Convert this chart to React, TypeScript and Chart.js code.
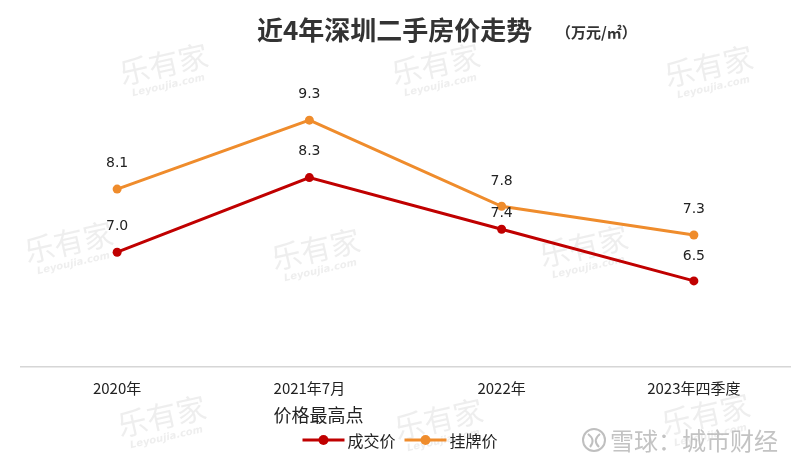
import React, { useEffect, useRef } from "react";
import { Chart, registerables } from "chart.js";

Chart.register(...registerables);

const categories = ["2020年", "2021年7月", "2022年", "2023年四季度"];
const dealPrice = [7.0, 8.3, 7.4, 6.5];
const listPrice = [8.1, 9.3, 7.8, 7.3];
const seriesNames = ["成交价", "挂牌价"];
const titleText = "近4年深圳二手房价走势";
const unitText = "（万元/㎡）";
const peakNote = "价格最高点";
const peakIndex = 1;
const yMin = 5;
const yMax = 10;
const watermarkText = "乐有家";
const watermarkSub = "Leyoujia.com";
const sourceText = "雪球：城市财经";

const RED = "#C00000";
const ORANGE = "#EF8C2C";
const CJK = "'Noto Sans CJK SC', 'Noto Sans', sans-serif";
const NUM = "'DejaVu Sans', sans-serif";

const watermarkSpots = [
  [165, 70], [437, 70], [710, 72],
  [70, 248], [317, 255], [585, 252],
  [163, 422], [440, 425], [707, 420],
];

const overlayPlugin = {
  id: "overlay",
  beforeDraw(chart: any) {
    const ctx = chart.ctx;
    ctx.save();
    ctx.fillStyle = "#ffffff";
    ctx.fillRect(0, 0, chart.width, chart.height);
    // faint watermarks
    watermarkSpots.forEach(([x, y]) => {
      ctx.save();
      ctx.translate(x, y);
      ctx.rotate(-0.22);
      ctx.fillStyle = "rgba(150,150,150,0.16)";
      ctx.textAlign = "center";
      ctx.textBaseline = "middle";
      ctx.font = `30px ${CJK}`;
      ctx.fillText(watermarkText, 0, -6);
      ctx.font = `italic bold 10px ${NUM}`;
      ctx.fillText(watermarkSub, 0, 16);
      ctx.restore();
    });
    // source watermark
    ctx.strokeStyle = "rgba(170,170,170,0.75)";
    ctx.lineWidth = 2;
    ctx.beginPath();
    ctx.arc(594, 440, 11, 0, Math.PI * 2);
    ctx.stroke();
    ctx.beginPath();
    ctx.moveTo(588, 434);
    ctx.quadraticCurveTo(596, 440, 590, 447);
    ctx.moveTo(600, 434);
    ctx.quadraticCurveTo(592, 440, 599, 447);
    ctx.stroke();
    ctx.fillStyle = "rgba(175,175,175,0.75)";
    ctx.font = `24px ${CJK}`;
    ctx.textAlign = "left";
    ctx.textBaseline = "middle";
    ctx.fillText(sourceText, 610, 441);
    ctx.restore();
  },
  afterDatasetsDraw(chart: any) {
    const ctx = chart.ctx;
    ctx.save();
    ctx.font = `14px ${NUM}`;
    ctx.fillStyle = "#222222";
    ctx.textAlign = "center";
    ctx.textBaseline = "middle";
    chart.data.datasets.forEach((ds: any, i: number) => {
      const meta = chart.getDatasetMeta(i);
      meta.data.forEach((pt: any, j: number) => {
        const off = ds.labelOffsets ? ds.labelOffsets[j] : 26;
        ctx.fillText(Number(ds.data[j]).toFixed(1), pt.x, pt.y - off);
      });
    });
    ctx.restore();
  },
  afterDraw(chart: any) {
    const ctx = chart.ctx;
    ctx.save();
    // title
    ctx.fillStyle = "#333333";
    ctx.textBaseline = "middle";
    ctx.textAlign = "left";
    ctx.font = `bold 26px ${CJK}`;
    ctx.fillText(titleText, 257, 30);
    ctx.font = `bold 15px ${CJK}`;
    ctx.fillText(unitText, 556, 32);

    // peak note, left-aligned with its category label
    const xs = chart.scales.x;
    ctx.font = `15px ${CJK}`;
    const lw = ctx.measureText(categories[peakIndex]).width;
    const px = xs.getPixelForValue(peakIndex) - lw / 2;
    ctx.font = `18px ${CJK}`;
    ctx.fillStyle = "#222222";
    ctx.fillText(peakNote, px, 415);

    // legend
    const ly = 440;
    const seg = 42;
    ctx.font = `16px ${CJK}`;
    const colors = [RED, ORANGE];
    const widths = seriesNames.map((n) => ctx.measureText(n).width);
    const total = seg * 2 + 3 * 2 + widths[0] + widths[1] + 9;
    let x = 400 - total / 2;
    seriesNames.forEach((name, i) => {
      ctx.strokeStyle = colors[i];
      ctx.lineWidth = 3;
      ctx.beginPath();
      ctx.moveTo(x, ly);
      ctx.lineTo(x + seg, ly);
      ctx.stroke();
      ctx.fillStyle = colors[i];
      ctx.beginPath();
      ctx.arc(x + seg / 2, ly, 5, 0, Math.PI * 2);
      ctx.fill();
      x += seg + 3;
      ctx.fillStyle = "#222222";
      ctx.fillText(name, x, ly + 1);
      x += widths[i] + 9;
    });
    ctx.restore();
  },
};

export default function App() {
  const ref = useRef<HTMLCanvasElement | null>(null);
  useEffect(() => {
    if (!ref.current) return;
    const chart = new Chart(ref.current, {
      type: "line",
      data: {
        labels: categories,
        datasets: [
          {
            label: seriesNames[0],
            data: dealPrice,
            borderColor: RED,
            backgroundColor: RED,
            borderWidth: 3,
            pointRadius: 4.5,
            pointBackgroundColor: RED,
            pointBorderWidth: 0,
            tension: 0,
            labelOffsets: [26, 26, 16, 25],
          } as any,
          {
            label: seriesNames[1],
            data: listPrice,
            borderColor: ORANGE,
            backgroundColor: ORANGE,
            borderWidth: 3,
            pointRadius: 4.5,
            pointBackgroundColor: ORANGE,
            pointBorderWidth: 0,
            tension: 0,
            labelOffsets: [26, 26, 25, 26],
          } as any,
        ],
      },
      options: {
        animation: false,
        responsive: true,
        maintainAspectRatio: false,
        layout: { padding: { left: 21, right: 10, top: 80, bottom: 60 } },
        plugins: {
          legend: { display: false },
          title: { display: false },
          tooltip: { enabled: false },
        },
        scales: {
          x: {
            offset: true,
            grid: { display: false, drawTicks: false },
            border: { display: true, color: "#d6d6d6", width: 1.5 },
            ticks: {
              padding: 12,
              color: "#222222",
              font: { size: 15, family: CJK },
              maxRotation: 0,
            },
            afterFit: (s: any) => {
              s.height = 40;
            },
          },
          y: {
            display: false,
            min: yMin,
            max: yMax,
          },
        },
      },
      plugins: [overlayPlugin],
    });
    return () => chart.destroy();
  }, []);
  return (
    <div style={{ position: "fixed", left: 0, top: 0, width: 800, height: 467, background: "#fff" }}>
      <canvas ref={ref} />
    </div>
  );
}
